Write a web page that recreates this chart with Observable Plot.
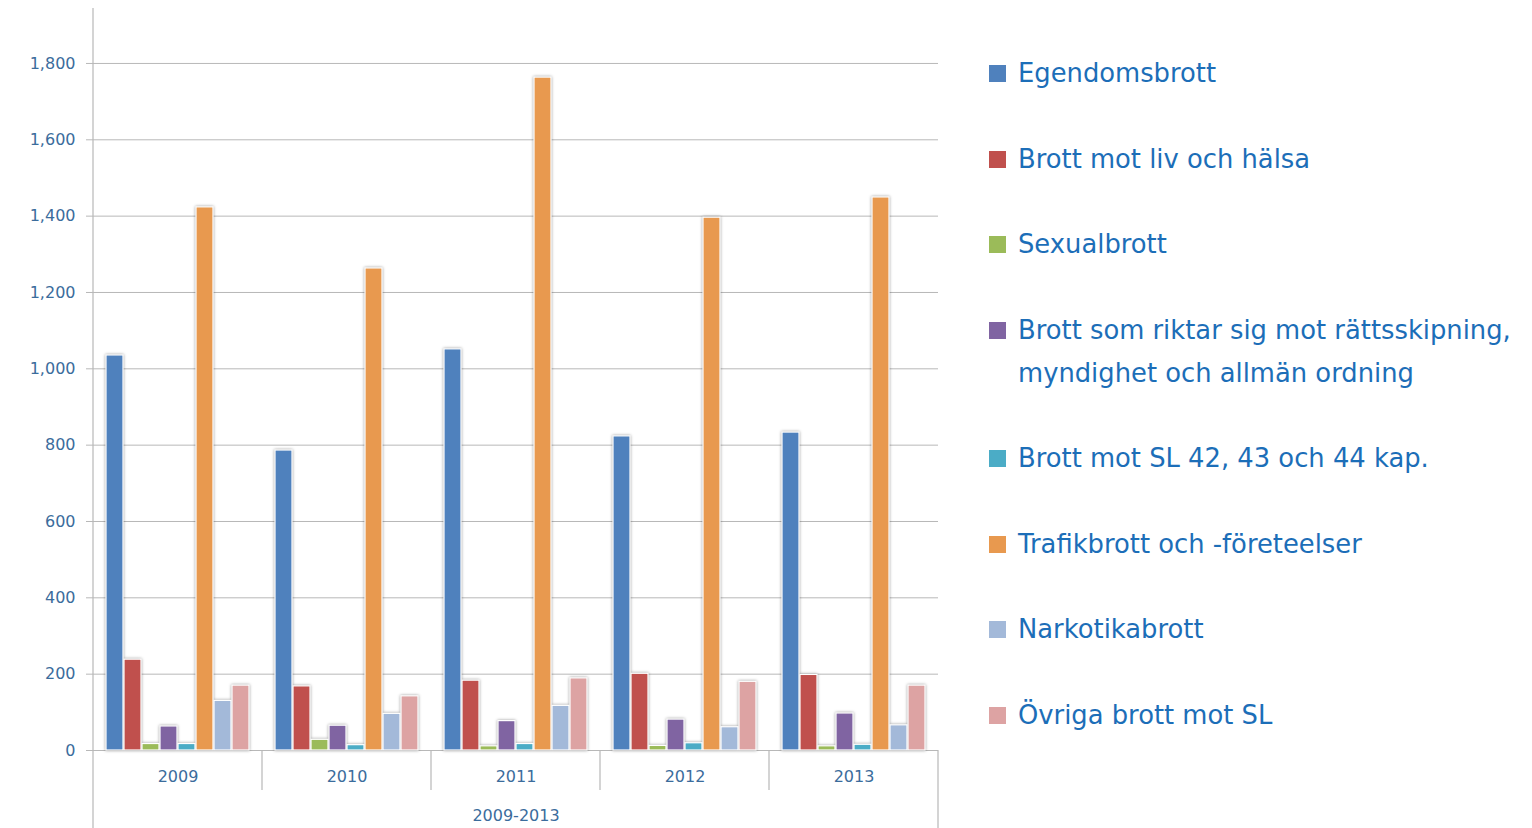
<!DOCTYPE html>
<html>
<head>
<meta charset="utf-8">
<script src="https://cdn.jsdelivr.net/npm/d3@7"></script>
<script src="https://cdn.jsdelivr.net/npm/@observablehq/plot@0.6"></script>
<style>
  html, body { margin: 0; padding: 0; background: #fff; }
  #wrap { position: relative; width: 1532px; height: 828px; overflow: hidden; }
  #chart { position: absolute; left: 0; top: 0; }
  #legend { position: absolute; left: 989px; top: 52px; font-family: "DejaVu Sans", sans-serif; font-size: 25.8px; color: #1c6eb8; }
  .item { display: flex; align-items: flex-start; margin-bottom: 42.5px; line-height: 43px; white-space: nowrap; }
  .sw { width: 17px; height: 17px; flex: none; margin-top: 13px; margin-right: 12px; }
</style>
</head>
<body>
<div id="wrap"><div id="chart"></div><div id="legend"></div></div>
<script>
const years = ["2009", "2010", "2011", "2012", "2013"];
const categories = [
  "Egendomsbrott",
  "Brott mot liv och hälsa",
  "Sexualbrott",
  "Brott som riktar sig mot rättsskipning, myndighet och allmän ordning",
  "Brott mot SL 42, 43 och 44 kap.",
  "Trafikbrott och -företeelser",
  "Narkotikabrott",
  "Övriga brott mot SL"
];
const legendLines = [
  ["Egendomsbrott"],
  ["Brott mot liv och hälsa"],
  ["Sexualbrott"],
  ["Brott som riktar sig mot rättsskipning,", "myndighet och allmän ordning"],
  ["Brott mot SL 42, 43 och 44 kap."],
  ["Trafikbrott och -företeelser"],
  ["Narkotikabrott"],
  ["Övriga brott mot SL"]
];
const colors = ["#4f81bd", "#c0504d", "#9bbb59", "#8064a2", "#4bacc6", "#e8994f", "#a3b9d9", "#dda3a3"];

const egendomsbrott = [1035, 786, 1051, 823, 833];
const livOchHalsa   = [238, 168, 183, 201, 198];
const sexualbrott   = [17, 28, 11, 12, 11];
const rattsskipning = [63, 65, 77, 81, 97];
const slKap         = [17, 14, 17, 19, 15];
const trafikbrott   = [1423, 1263, 1763, 1396, 1449];
const narkotika     = [130, 96, 117, 61, 66];
const ovriga        = [170, 142, 189, 180, 170];
const series = [egendomsbrott, livOchHalsa, sexualbrott, rattsskipning, slKap, trafikbrott, narkotika, ovriga];

const yTicks = [0, 200, 400, 600, 800, 1000, 1200, 1400, 1600, 1800];
const yMax = 1944;

const data = [];
years.forEach((yr, i) => categories.forEach((c, j) => data.push({year: yr, cat: c, value: series[j][i]})));

const tickColor = "#3b6c9c";
const plot = Plot.plot({
  width: 960,
  height: 828,
  marginLeft: 92,
  marginRight: 21,
  marginTop: 8,
  marginBottom: 78,
  style: {fontFamily: "'DejaVu Sans', sans-serif", fontSize: "16px", color: tickColor, background: "transparent"},
  fx: {domain: years, padding: 0, tickSize: 0, tickPadding: 20, label: "2009-2013", labelAnchor: "center", labelOffset: 70},
  x: {domain: categories, axis: null, paddingInner: 0.06, paddingOuter: 0.72},
  y: {domain: [0, yMax], ticks: yTicks, tickFormat: d3.format(","), tickSize: 7, tickPadding: 11, label: null},
  color: {domain: categories, range: colors},
  marks: [
    Plot.ruleY(yTicks, {stroke: "#b8b8b8", strokeWidth: 1}),
    Plot.barY(data, {fx: "year", x: "cat", y: "value", fill: "cat", stroke: "white", strokeWidth: 1.2})
  ]
});
document.getElementById("chart").appendChild(plot);

// style tweaks
const svg = d3.select(plot);
svg.selectAll("g[aria-label='y-axis'] line, g[aria-label='y-axis tick'] line, g[aria-label='y-axis tick'] path").attr("stroke", "#b8b8b8");
svg.selectAll("g[aria-label='bar']").style("filter", "drop-shadow(0px 0px 1.5px rgba(0,0,0,0.4))");

// frame / separator lines computed from the library's scales
const fx = plot.scale("fx");
const ys = plot.scale("y");
const y0 = ys.apply(0), yTop = ys.apply(yMax);
const g = svg.append("g").attr("stroke", "#b8b8b8").attr("stroke-width", 1.2);
const left = fx.apply(years[0]);
const right = fx.apply(years[years.length - 1]) + fx.bandwidth;
g.append("line").attr("x1", left).attr("x2", left).attr("y1", yTop).attr("y2", 828);
g.append("line").attr("x1", right).attr("x2", right).attr("y1", y0).attr("y2", 828);
years.slice(1).forEach(yr => {
  const x = fx.apply(yr);
  g.append("line").attr("x1", x).attr("x2", x).attr("y1", y0).attr("y2", y0 + 40);
});

// legend
const legend = document.getElementById("legend");
legendLines.forEach((lines, i) => {
  const item = document.createElement("div");
  item.className = "item";
  const sw = document.createElement("div");
  sw.className = "sw";
  sw.style.background = colors[i];
  const txt = document.createElement("div");
  txt.innerHTML = lines.join("<br>");
  item.appendChild(sw);
  item.appendChild(txt);
  legend.appendChild(item);
});
</script>
</body>
</html>
